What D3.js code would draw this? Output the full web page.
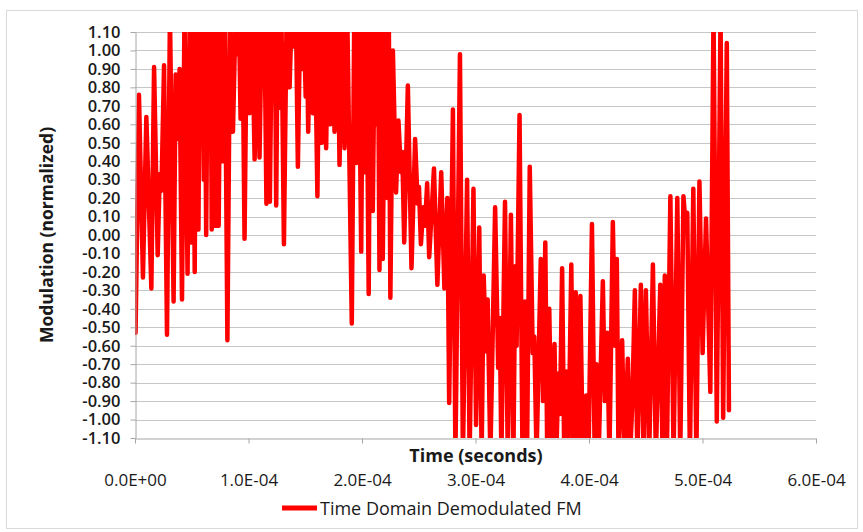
<!DOCTYPE html>
<html>
<head>
<meta charset="utf-8">
<script src="https://cdn.jsdelivr.net/npm/d3@7"></script>
<style>
  html, body { margin: 0; padding: 0; background: #ffffff; }
  svg { display: block; }
  text { font-family: "Open Sans", "Liberation Sans", sans-serif; fill: #1a1a1a; }
</style>
</head>
<body>
<svg id="chart" width="863" height="532"></svg>
<script>
// ---- data (time in microseconds, modulation normalized) ----
const timeUs = [
  0.5, 3.5, 7.0, 10.0, 14.4, 16.8, 20.0, 21.8, 23.3, 25.6, 28.2, 30.8, 34.0, 35.8, 37.3, 39.3, 41.4, 43.6, 46.3, 48.2, 49.9,
  51.2, 52.6, 54.0, 55.9, 57.0, 57.9, 59.2, 60.6, 61.5, 62.7, 64.2, 65.6, 66.6, 67.6, 69.2, 71.0, 72.2, 73.7, 75.3, 77.2, 79.2, 81.4,
  83.8, 86.3, 88.6, 90.2, 91.6, 93.0, 94.6, 96.5, 98.6, 101.0, 103.0, 105.4, 107.6, 109.7, 111.8, 113.0, 114.0, 115.8, 117.2, 118.8,
  120.6, 122.4, 123.2, 124.4, 125.8, 127.4, 129.0, 131.2,
  133.6, 136.2, 138.0, 140.4, 141.8, 143.5, 145.6, 147.2, 148.6, 150.4, 151.3, 152.6, 154.5, 156.7, 158.4, 160.7, 162.6, 164.6,
  166.2, 168.4, 170.2, 172.0, 173.8, 175.8, 176.6, 177.3, 178.5, 180.2, 182.4, 184.6, 187.0, 191.0, 193.2, 195.0, 197.0, 199.3,
  200.8, 202.2, 203.8, 205.9, 207.5, 209.5, 211.4, 213.0, 214.0, 215.4, 216.8, 218.3, 220.5, 222.4, 223.6, 225.0, 227.2, 230.0,
  232.1, 234.3, 235.5, 237.2, 240.4, 243.6, 246.8, 249.0, 250.2, 251.9, 254.0, 255.5, 257.4, 259.2, 263.4, 266.4, 269.8, 272.6,
  275.2, 276.8, 280.1, 282.3, 286.3, 288.9, 292.6, 294.8, 298.2, 300.5, 303.3, 305.4, 307.2, 309.3, 310.7, 313.1, 317.3, 320.0,
  321.4, 322.8, 326.0, 328.4, 331.2, 333.4, 335.0, 336.2, 338.8, 341.4, 343.6, 345.4, 347.8, 350.4, 351.8, 353.8, 357.5, 359.5,
  361.5, 363.2, 365.0, 367.0, 369.6, 371.2, 373.0, 374.5, 376.3, 378.2, 380.0, 381.8, 384.4, 386.3, 388.3, 390.2, 392.4, 394.5,
  397.5, 399.6, 402.6, 405.0, 406.6, 408.5, 412.2, 414.0, 416.0, 418.0, 421.0, 423.0, 424.5, 426.0, 429.2, 431.2, 434.2, 436.2,
  438.2, 440.4, 442.6, 445.7, 448.0, 450.1, 453.0, 456.3, 458.9, 462.8, 464.8, 466.8, 468.6, 471.7, 474.5, 477.8, 480.4, 483.2,
  485.3, 486.6, 488.9, 491.9, 494.6, 497.3, 500.1, 503.1, 506.9, 509.7, 512.6, 515.9, 518.2, 521.4, 523.3
];
const modulation = [
  -0.53, 0.76, -0.23, 0.64, -0.29, 0.91, -0.11, 0.33, 0.24, 0.92, -0.54, 1.20, -0.36, 0.87, 0.52, 0.90, -0.35, 1.20, -0.21, 1.20, -0.04,
  1.20, -0.20, 1.20, 0.03, 1.20, 0.75, 1.20, 0.30, 1.20, 0.00, 1.20, 0.62, 1.20, 0.03, 1.20, 0.05, 1.20, 0.05, 1.20, 0.40, 1.20, -0.57,
  1.20, 0.56, 1.20, 0.98, 1.20, 0.63, 1.20, -0.02, 1.20, 0.66, 1.20, 0.41, 1.20, 0.42, 1.20, 0.95, 1.20, 0.17, 1.20, 0.18,
  1.20, 0.85, 1.20, 0.16, 1.20, 0.69, 1.20, -0.05,
  1.20, 0.80, 1.20, 1.02, 1.20, 0.37, 1.20, 0.90, 1.20, 0.75, 1.20, 0.56, 1.20, 0.66, 1.20, 0.21, 1.20, 0.50,
  1.20, 0.47, 1.20, 0.60, 1.20, 0.56, 1.20, 1.02, 1.20, 0.38, 1.20, 0.47, 1.20, -0.48, 1.20, 0.39, 1.20, -0.09,
  1.20, 0.34, 1.20, -0.32, 1.20, 0.13, 1.20, 0.60, 1.20, -0.19, 1.20, -0.13, 1.20, 0.20, 1.20, -0.34, 1.00, 0.23,
  0.62, 0.34, 0.45, -0.04, 0.81, -0.18, 0.52, 0.17, 0.26, -0.05, 0.15, 0.05, 0.28, -0.12, 0.36, -0.27, 0.34, -0.29,
  0.20, -0.91, 0.68, -1.20, 0.98, -1.20, 0.30, -1.20, 0.25, -1.03, 0.04, -1.20, -0.22, -0.63, -0.35, -1.20, 0.15, -0.72,
  -0.45, -1.20, 0.18, -1.20, 0.11, -1.20, -0.17, -0.60, 0.65, -1.20, -0.36, -1.20, 0.37, -0.64, -0.55, -1.20, -0.13, -0.90,
  -0.04, -1.20, -0.40, -1.20, -0.59, -1.20, -0.75, -0.97, -0.18, -1.20, -0.74, -1.20, -0.16, -1.20, -0.31, -1.20, -0.33, -1.20,
  -0.87, -1.20, 0.06, -1.20, -0.70, -1.20, -0.25, -0.90, -0.53, -1.20, 0.07, -0.60, -0.13, -1.20, -0.57, -1.20, -0.67, -1.20,
  -0.90, -0.30, -1.20, -0.27, -1.20, -0.30, -1.20, -0.16, -1.20, -0.27, -1.20, -0.22, -1.20, 0.21, -1.20, 0.20, -1.20, 0.21,
  0.04, 0.12, -1.20, 0.25, -1.20, 0.29, -0.64, 0.09, -0.85, 1.20, -1.01, 1.20, -0.99, 1.04, -0.95
];
const xTicksSec = [0, 1e-4, 2e-4, 3e-4, 4e-4, 5e-4, 6e-4];
const yTickSteps = d3.range(-11, 12); // tenths: -1.10 .. 1.10
const seriesName = "Time Domain Demodulated FM";
const xTitle = "Time (seconds)";
const yTitle = "Modulation (normalized)";

// ---- layout ----
const svg = d3.select("#chart");
const L = 135, R = 816, T = 32, B = 438;
const x = d3.scaleLinear().domain([0, 6e-4]).range([L, R]);
const y = d3.scaleLinear().domain([-1.1, 1.1]).range([B, T]);

function sci(d) {
  const s = d.toExponential(1).split("e");
  const e = +s[1];
  return s[0] + "E" + (e < 0 ? "-" : "+") + String(Math.abs(e)).padStart(2, "0");
}

// outer frame
svg.append("rect").attr("x", 6.5).attr("y", 10.5).attr("width", 851).attr("height", 518)
  .attr("fill", "#fff").attr("stroke", "#d9d9d9").attr("stroke-width", 1);

// gridlines
const yVals = yTickSteps.map(k => k / 10);
svg.append("g").selectAll("line").data(yVals.filter(v => v > -1.1 + 1e-9)).join("line")
  .attr("x1", L).attr("x2", R)
  .attr("y1", d => Math.round(y(d)) + 0.5).attr("y2", d => Math.round(y(d)) + 0.5)
  .attr("stroke", "#c6c6c6").attr("stroke-width", 1);

// series line, clipped to plot area
svg.append("clipPath").attr("id", "plotclip").append("rect")
  .attr("x", L).attr("y", T).attr("width", R - L).attr("height", B - T);
const pts = timeUs.map((t, i) => [t * 1e-6, modulation[i]]);
svg.append("path").datum(pts)
  .attr("clip-path", "url(#plotclip)")
  .attr("fill", "none").attr("stroke", "#ff0000").attr("stroke-width", 4.5)
  .attr("stroke-linejoin", "round").attr("stroke-linecap", "round")
  .attr("d", d3.line().x(d => x(d[0])).y(d => y(d[1])));

// axes
const yAxis = d3.axisLeft(y).tickValues(yVals).tickFormat(d => d.toFixed(2))
  .tickSize(5).tickSizeOuter(0).tickPadding(10);
const gy = svg.append("g").attr("transform", `translate(${L + 0.5},0)`).call(yAxis);
gy.select(".domain").attr("stroke", "#a6a6a6");
gy.selectAll(".tick line").attr("stroke", "#a6a6a6");
gy.selectAll(".tick text").attr("font-size", 16.5).attr("font-family", "Open Sans").attr("fill", "#1a1a1a")
  .attr("font-weight", 600);

const xAxis = d3.axisBottom(x).tickValues(xTicksSec).tickFormat(sci)
  .tickSize(5).tickSizeOuter(0).tickPadding(30);
const gx = svg.append("g").attr("transform", `translate(0,${B + 0.5})`).call(xAxis);
gx.select(".domain").attr("stroke", "#a6a6a6");
gx.selectAll(".tick line").attr("stroke", "#a6a6a6");
gx.selectAll(".tick text").attr("font-size", 17).attr("font-family", "Open Sans").attr("fill", "#1a1a1a");

// axis titles
svg.append("text").attr("x", 476).attr("y", 462).attr("text-anchor", "middle")
  .attr("font-size", 18).attr("font-weight", 700).text(xTitle);
svg.append("text").attr("transform", "translate(53,235) rotate(-90)").attr("text-anchor", "middle")
  .attr("font-size", 17.5).attr("font-weight", 700).text(yTitle);

// legend
svg.append("line").attr("x1", 282).attr("x2", 317).attr("y1", 508).attr("y2", 508)
  .attr("stroke", "#ff0000").attr("stroke-width", 5);
svg.append("text").attr("x", 320).attr("y", 515).attr("font-size", 18).text(seriesName);
</script>
</body>
</html>
